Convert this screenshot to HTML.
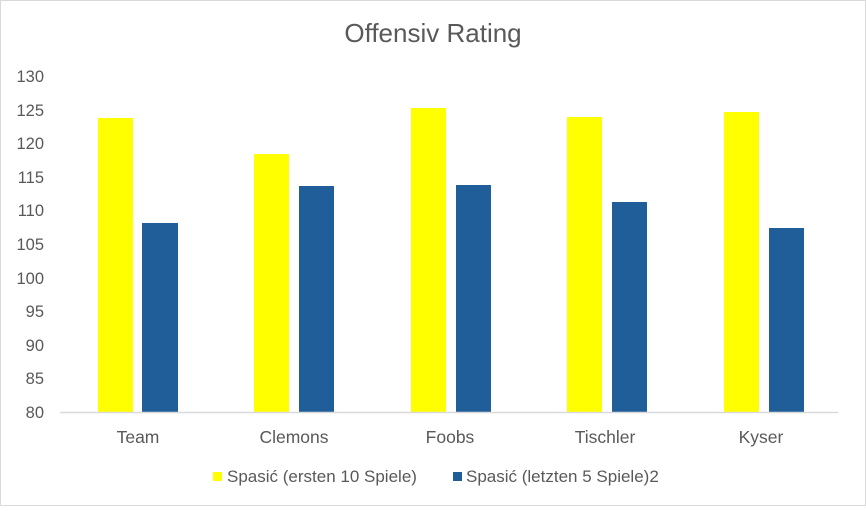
<!DOCTYPE html>
<html><head><meta charset="utf-8"><style>
body{margin:0;background:#fff;}
</style></head><body>
<svg width="866" height="506" xmlns="http://www.w3.org/2000/svg" font-family="Liberation Sans, sans-serif">
<rect x="0.5" y="0.5" width="865" height="505" fill="#fff" stroke="#d9d9d9"/>
<text x="433" y="42" text-anchor="middle" font-size="26" fill="#595959">Offensiv Rating</text>
<g font-size="16.5" fill="#595959" text-anchor="end">
<text x="44" y="82">130</text><text x="44" y="116">125</text><text x="44" y="149">120</text>
<text x="44" y="183">115</text><text x="44" y="216">110</text><text x="44" y="250">105</text>
<text x="44" y="284">100</text><text x="44" y="317">95</text><text x="44" y="351">90</text>
<text x="44" y="384">85</text><text x="44" y="418">80</text>
</g>
<g fill="#ffff00">
<rect x="98" y="118" width="35" height="294"/>
<rect x="254" y="154" width="35" height="258"/>
<rect x="411" y="108" width="35" height="304"/>
<rect x="567" y="117" width="35" height="295"/>
<rect x="724" y="112" width="35" height="300"/>
</g>
<g fill="#1f5e99">
<rect x="142" y="223" width="36" height="189"/>
<rect x="299" y="186" width="35" height="226"/>
<rect x="456" y="185" width="35" height="227"/>
<rect x="612" y="202" width="35" height="210"/>
<rect x="769" y="228" width="35" height="184"/>
</g>
<line x1="60" y1="412.5" x2="838" y2="412.5" stroke="#d9d9d9" stroke-width="1.5"/>
<g font-size="17.5" fill="#595959" text-anchor="middle">
<text x="138" y="443">Team</text><text x="294" y="443">Clemons</text><text x="450" y="443">Foobs</text>
<text x="605" y="443">Tischler</text><text x="761" y="443">Kyser</text>
</g>
<rect x="213" y="472" width="9" height="9" fill="#ffff00"/>
<text x="227" y="482" font-size="17" fill="#595959">Spasić (ersten 10 Spiele)</text>
<rect x="453" y="472" width="9" height="9" fill="#1f5e99"/>
<text x="466" y="482" font-size="17" fill="#595959">Spasić (letzten 5 Spiele)2</text>
</svg>
</body></html>
